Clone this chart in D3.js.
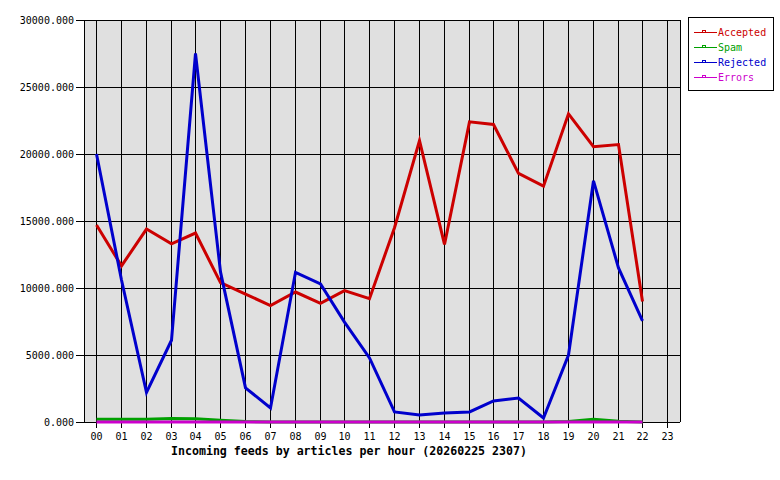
<!DOCTYPE html>
<html><head><meta charset="utf-8">
<script src="https://cdn.jsdelivr.net/npm/d3@7/dist/d3.min.js"></script>
<style>body{margin:0;background:#fff}svg{display:block}</style>
</head><body>
<svg id="c" width="780" height="480"></svg>
<script>
const hours = ["00","01","02","03","04","05","06","07","08","09","10","11","12","13","14","15","16","17","18","19","20","21","22","23"];
const dataHours = hours.slice(0, 23);
const accepted = [14700,11650,14400,13300,14100,10400,9550,8680,9700,8850,9800,9200,14500,21000,13250,22400,22200,18550,17600,23000,20550,20700,9000];
const spam     = [200,200,210,260,250,140,40,0,0,0,0,0,0,0,0,0,0,0,0,40,200,60,0];
const rejected = [20000,10600,2200,6100,27500,11200,2550,1050,11170,10300,7450,4780,750,520,680,750,1570,1790,300,5000,18000,11500,7550];
const errors   = [0,0,0,0,0,0,0,0,0,0,0,0,0,0,0,0,0,0,0,0,0,0,0];
const yTicks = [0,5000,10000,15000,20000,25000,30000];
const seriesNames = ["Accepted","Spam","Rejected","Errors"];
const seriesColors = ["#cc0000","#00a000","#0000cc","#cc00cc"];
const title = "Incoming feeds by articles per hour (20260225 2307)";

const svg = d3.select("#c");
const L = 84, R = 680, T = 20, B = 422;
const font = "'DejaVu Sans Mono', 'Liberation Mono', monospace";

const x = d3.scaleBand().domain(hours).range([L - 0.4, R - 0.4]).padding(0);
const cx = h => Math.round(x(h) + x.bandwidth() / 2) + 0.5;
const y = d3.scaleLinear().domain([0, 30000]).range([B, T]);

svg.append("rect").attr("x", L).attr("y", T).attr("width", R - L).attr("height", B - T).attr("fill", "#e0e0e0");

const g = svg.append("g").attr("shape-rendering", "crispEdges");
yTicks.forEach(v => {
  const yy = Math.round(y(v)) + 0.5;
  g.append("line").attr("x1", L - 8).attr("x2", R).attr("y1", yy).attr("y2", yy).attr("stroke", "#000");
});
hours.forEach(h => {
  g.append("line").attr("x1", cx(h)).attr("x2", cx(h)).attr("y1", T).attr("y2", B + 6).attr("stroke", "#000");
});
g.append("line").attr("x1", L + 0.5).attr("x2", L + 0.5).attr("y1", T).attr("y2", B).attr("stroke", "#000");
g.append("line").attr("x1", R + 0.5).attr("x2", R + 0.5).attr("y1", T).attr("y2", B).attr("stroke", "#000");

svg.append("g").selectAll("text").data(yTicks).join("text")
  .attr("x", 74).attr("y", d => y(d) + 4)
  .attr("text-anchor", "end").attr("font-family", font).attr("font-size", 10)
  .text(d => d3.format(".3f")(d));
svg.append("g").selectAll("text").data(hours).join("text")
  .attr("x", d => cx(d)).attr("y", 440)
  .attr("text-anchor", "middle").attr("font-family", font).attr("font-size", 10)
  .text(d => d);
svg.append("text").attr("x", 349).attr("y", 455).attr("text-anchor", "middle")
  .attr("font-family", font).attr("font-size", 11.6).attr("font-weight", "bold").text(title);

const allSeries = [accepted, spam, rejected, errors];
const line = d3.line().x((d, i) => cx(dataHours[i])).y(d => y(d));
allSeries.forEach((s, k) => {
  svg.append("path").datum(s).attr("d", line).attr("fill", "none")
    .attr("stroke", seriesColors[k]).attr("stroke-width", 3).attr("stroke-linejoin", "miter");
});

const lg = svg.append("g");
lg.append("rect").attr("x", 688.5).attr("y", 17.5).attr("width", 85).attr("height", 73)
  .attr("fill", "#fff").attr("stroke", "#000").attr("shape-rendering", "crispEdges");
seriesNames.forEach((n, i) => {
  const yy = 32.5 + i * 15;
  lg.append("line").attr("x1", 694).attr("x2", 717).attr("y1", yy).attr("y2", yy)
    .attr("stroke", seriesColors[i]).attr("shape-rendering", "crispEdges");
  lg.append("rect").attr("x", 702.5).attr("y", yy - 2).attr("width", 3).attr("height", 2)
    .attr("fill", "none").attr("stroke", seriesColors[i]).attr("shape-rendering", "crispEdges");
  lg.append("text").attr("x", 718).attr("y", yy + 3.5).attr("font-family", font).attr("font-size", 10)
    .attr("fill", seriesColors[i]).text(n);
});
</script>
</body></html>
